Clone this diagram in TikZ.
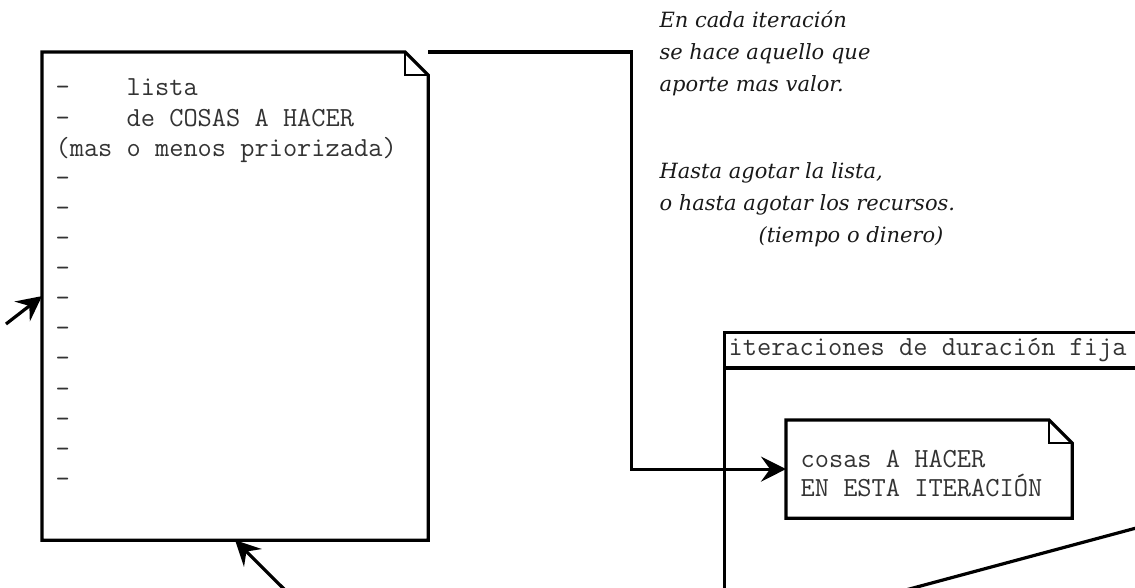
\documentclass[tikz,border=0pt]{standalone}
\usepackage{fontspec}
\usepackage{tikz}
\usetikzlibrary{arrows.meta}

\newfontfamily\remarkfnt{DejaVu Serif}

% note with a folded corner, drawn round a named node
\newcommand{\dogear}[1]{%
  \draw (#1.north west) -- ([xshift=-23pt]#1.north east) -- ([yshift=-23pt]#1.north east)
    -- (#1.south east) -- (#1.south west) -- cycle;
  \draw[fold] ([xshift=-23pt]#1.north east) -- ([xshift=-23pt,yshift=-23pt]#1.north east)
    -- ([yshift=-23pt]#1.north east);}

\begin{document}
\begin{tikzpicture}[x=1pt,y=-1pt,line width=3.2pt,
    listtext/.style={font={\ttfamily\fontsize{27.6}{30}\selectfont},text=black!80,anchor=base west,inner sep=0pt},
    remark/.style={font={\remarkfnt\itshape\fontsize{21}{32}\selectfont},text=black!90,anchor=base west,inner sep=0pt},
    arrow/.style={-{Stealth[length=25pt,width=25pt,inset=9pt]}},
    fold/.style={line width=1.6pt},
    box/.style={draw=none,inner sep=0pt,anchor=north west}]
    \useasboundingbox (0,0) rectangle (1135,588);

    % the list
    \node[box,minimum width=383pt,minimum height=485pt] (lista) at (42,52) {};
    \dogear{lista}
    \node[listtext] (l0) at (54,96) {-\ \ \ \ lista};
    \node[listtext] (l1) at (54,126.1) {-\ \ \ \ de COSAS A HACER};
    \node[listtext] (l2) at (54,156.2) {(mas o menos priorizada)};
    \foreach \i in {3,...,13}
        \node[listtext] (l\i) at (54,96+30.1*\i) {-};

    % remarks
    \node[remark] (r0) at (658,28) {En cada iteración};
    \node[remark] (r1) at (658,60) {se hace aquello que};
    \node[remark] (r2) at (658,92) {aporte mas valor.};
    \node[remark] (r3) at (658,179) {Hasta agotar la lista,};
    \node[remark] (r4) at (658,211) {o hasta agotar los recursos.};
    \node[remark] (r5) at (757,242) {(tiempo o dinero)};

    % iteration frame
    \node[box,draw,minimum width=450pt,minimum height=300pt] (iter) at (723,331) {};
    \draw (723,368) -- (1180,368);
    \node[listtext] (itertitle) at (727,355) {iteraciones de duración fija};

    % things for this iteration
    \node[box,minimum width=283pt,minimum height=95pt] (cosas) at (786,420) {};
    \dogear{cosas}
    \node[listtext] (c0) at (799,467) {cosas A HACER};
    \node[listtext] (c1) at (799,496) {EN ESTA ITERACIÓN};

    % connectors
    \coordinate (inleft) at (6,324);
    \coordinate (inbottom) at (286,591);
    \coordinate (diagA) at (902,591);
    \coordinate (diagB) at (1140,527);
    \draw[arrow] (lista.north east) -- ++(203,0) |- (cosas.west);
    \draw[arrow] (inleft) -- (lista.west);
    \draw[arrow] (inbottom) -- (lista.south);
    \draw (diagA) -- (diagB);
\end{tikzpicture}
\end{document}
